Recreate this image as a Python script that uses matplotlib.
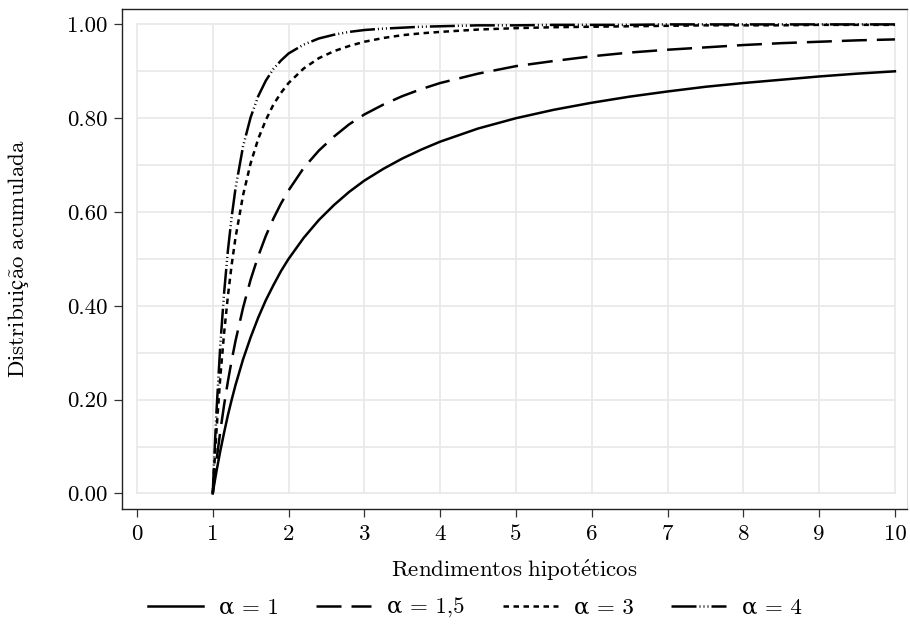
import matplotlib
matplotlib.use("Agg")
import matplotlib.pyplot as plt
import numpy as np

plt.rcParams['font.family'] = ['cmr10', 'DejaVu Serif']
plt.rcParams['mathtext.fontset'] = 'cm'
plt.rcParams['axes.unicode_minus'] = False

# values (cumulative distribution for each alpha)
x = [1.0, 1.02, 1.05, 1.1, 1.15, 1.2, 1.25, 1.3, 1.4, 1.5, 1.6, 1.7, 1.8, 1.9,
     2.0, 2.2, 2.4, 2.6, 2.8, 3.0, 3.25, 3.5, 3.75, 4.0, 4.5, 5.0, 5.5, 6.0,
     6.5, 7.0, 7.5, 8.0, 8.5, 9.0, 9.5, 10.0]
y_a1 = [0.0, 0.020, 0.048, 0.091, 0.130, 0.167, 0.200, 0.231, 0.286, 0.333,
        0.375, 0.412, 0.444, 0.474, 0.500, 0.545, 0.583, 0.615, 0.643, 0.667,
        0.692, 0.714, 0.733, 0.750, 0.778, 0.800, 0.818, 0.833, 0.846, 0.857,
        0.867, 0.875, 0.882, 0.889, 0.895, 0.900]
y_a15 = [0.0, 0.029, 0.071, 0.133, 0.189, 0.239, 0.284, 0.325, 0.396, 0.456,
         0.506, 0.549, 0.586, 0.618, 0.646, 0.694, 0.731, 0.761, 0.787, 0.808,
         0.829, 0.847, 0.862, 0.875, 0.895, 0.911, 0.922, 0.932, 0.940, 0.946,
         0.951, 0.956, 0.960, 0.963, 0.966, 0.968]
y_a3 = [0.0, 0.058, 0.136, 0.249, 0.342, 0.421, 0.488, 0.545, 0.636, 0.704,
        0.756, 0.796, 0.829, 0.854, 0.875, 0.906, 0.928, 0.943, 0.954, 0.963,
        0.971, 0.977, 0.981, 0.984, 0.989, 0.992, 0.994, 0.995, 0.996, 0.997,
        0.998, 0.998, 0.998, 0.999, 0.999, 0.999]
y_a4 = [0.0, 0.076, 0.177, 0.317, 0.428, 0.518, 0.590, 0.650, 0.740, 0.802,
        0.847, 0.880, 0.905, 0.923, 0.938, 0.957, 0.970, 0.978, 0.984, 0.988,
        0.991, 0.993, 0.995, 0.996, 0.998, 0.998, 0.999, 0.999, 0.999, 1.000,
        1.000, 1.000, 1.000, 1.000, 1.000, 1.000]
labels = ['α = 1', 'α = 1,5', 'α = 3', 'α = 4']
styles = ['-', (0, (10, 4)), (0, (2.2, 1.8)),
          (0, (10, 1.2, 0.4, 1.2, 0.4, 1.2, 0.4, 1.2))]

fig = plt.figure(figsize=(9.1, 6.37), dpi=100)
ax = fig.add_axes([0.134, 0.201, 0.8626, 0.785])

# grid only over the data range
for yy in np.arange(0, 1.01, 0.1):
    ax.plot([0, 10], [yy, yy], color='#e8e8e8', lw=1.2, zorder=0)
for xx in range(0, 11):
    ax.plot([xx, xx], [0, 1], color='#e8e8e8', lw=1.2, zorder=0)

for yv, lab, ls in zip([y_a1, y_a15, y_a3, y_a4], labels, styles):
    ax.plot(x, yv, color='black', lw=1.8, linestyle=ls, label=lab)

ax.set_xlim(-0.198, 10.158)
ax.set_ylim(-0.033, 1.033)
ax.set_xticks(range(0, 11))
ax.set_yticks([0, 0.2, 0.4, 0.6, 0.8, 1.0])
ax.set_yticklabels(['0.00', '0.20', '0.40', '0.60', '0.80', '1.00'])
ax.tick_params(labelsize=16.5, length=6, width=0.9, color='#333333')
ax.tick_params(axis='y', pad=4.3)
ax.tick_params(axis='x', pad=5)

for s in ['top', 'left', 'bottom']:
    ax.spines[s].set_color('#222222')
    ax.spines[s].set_linewidth(1.0)
ax.spines['right'].set_color('#dddddd')

ax.set_xlabel(r'$\mathrm{Rendimentos\ hipot\acute{e}ticos}$', fontsize=16.5)
ax.set_ylabel(r'$\mathrm{Distribuiç\tilde{a}o\ acumulada}$', fontsize=16.5)
ax.xaxis.set_label_coords(0.5, -0.098)
ax.yaxis.set_label_coords(-0.116, 0.5)

fig.legend(loc='center', bbox_to_anchor=(0.522, 0.046), ncol=4, frameon=False,
           fontsize=16.5, handlelength=2.4, handletextpad=0.7, columnspacing=1.65)

fig.savefig('out.png', dpi=100)
